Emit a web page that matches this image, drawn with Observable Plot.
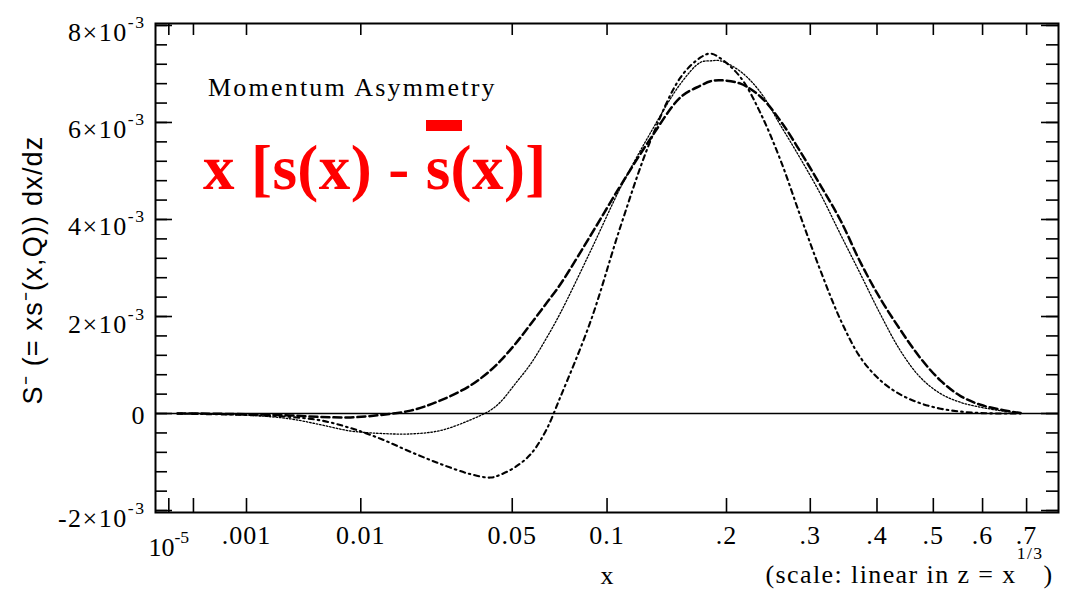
<!DOCTYPE html>
<html><head><meta charset="utf-8">
<script src="https://cdn.jsdelivr.net/npm/d3@7"></script>
<script src="https://cdn.jsdelivr.net/npm/@observablehq/plot@0.6"></script>
<style>
body{margin:0;background:#fff}
#wrap{position:relative;width:1070px;height:590px;overflow:hidden}
#title{position:absolute;left:208px;top:75px;font:26px "Liberation Serif",serif;line-height:1;letter-spacing:2.2px;color:#000;white-space:pre}
#formula{position:absolute;left:203px;top:137px;font:bold 63px "Liberation Serif",serif;line-height:1;letter-spacing:0.4px;color:#f00;white-space:pre}
.bar{position:relative}
.bar::before{content:"";position:absolute;left:0;width:36px;top:-13px;height:11px;background:#f00}
</style>
</head><body>
<div id="wrap">
<div id="title">Momentum Asymmetry</div>
<div id="formula">x [s(x) - <span class="bar">s</span>(x)]</div>
</div>
<script>
// x sample points (momentum fraction x)
const xs = [2.78e-5, 1.53e-4, 5.89e-4, 1.486e-3, 3.01e-3, 5.33e-3, 8.63e-3, 0.01304, 0.01876, 0.02593, 0.03475, 0.0416, 0.04535, 0.05135, 0.05792, 0.06496, 0.07262, 0.08962, 0.1091, 0.1312, 0.1561, 0.1743, 0.1839, 0.1939, 0.2149, 0.2374, 0.2614, 0.2870, 0.3142, 0.3430, 0.3736, 0.4059, 0.4400, 0.4760, 0.5139, 0.5538, 0.5957, 0.6396, 0.6857];
// values in units of 1e-3
const dashed = [0, 0, -0.01, -0.02, -0.04, -0.07, -0.08, -0.03, 0.06, 0.27, 0.58, 0.89, 1.09, 1.44, 1.84, 2.25, 2.67, 3.67, 4.70, 5.67, 6.52, 6.76, 6.85, 6.87, 6.80, 6.53, 6.03, 5.39, 4.70, 3.98, 3.11, 2.36, 1.72, 1.14, 0.68, 0.36, 0.18, 0.08, 0.01];
const thin = [0, 0, -0.02, -0.05, -0.11, -0.23, -0.36, -0.41, -0.42, -0.35, -0.13, 0.07, 0.24, 0.62, 1.02, 1.52, 2.08, 3.35, 4.66, 5.79, 6.80, 7.24, 7.27, 7.27, 7.05, 6.62, 5.94, 5.25, 4.52, 3.69, 2.87, 2.04, 1.29, 0.74, 0.41, 0.23, 0.13, 0.06, 0.01];
const dashdot = [0, -0.01, -0.02, -0.04, -0.07, -0.14, -0.30, -0.52, -0.79, -1.04, -1.25, -1.32, -1.26, -1.10, -0.84, -0.37, 0.35, 1.90, 3.86, 5.63, 6.93, 7.34, 7.42, 7.32, 6.93, 6.19, 5.22, 4.06, 2.94, 1.93, 1.15, 0.68, 0.39, 0.21, 0.10, 0.04, 0.01, 0, 0];

const xTicks = [1e-5, 1e-4, 0.001, 0.01, 0.05, 0.1, 0.2, 0.3, 0.4, 0.5, 0.6, 0.7];
const xTickLabels = ["10^{-5}", "", ".001", "0.01", "0.05", "0.1", ".2", ".3", ".4", ".5", ".6", ".7"];
const yTicks = [-2, 0, 2, 4, 6, 8];
const yTickLabels = ["-2×10^{-3}", "0", "2×10^{-3}", "4×10^{-3}", "6×10^{-3}", "8×10^{-3}"];
const yMinor = [-2, -1.6, -1.2, -0.8, -0.4, 0, 0.4, 0.8, 1.2, 1.6, 2, 2.4, 2.8, 3.2, 3.6, 4, 4.4, 4.8, 5.2, 5.6, 6, 6.4, 6.8, 7.2, 7.6, 8];
const xLabel = "x";
const scaleNote = "(scale: linear in z = x^^{1/3})";
const yLabel = "S⁻ (= xs⁻(x,Q)) dx/dz";

const W = 1070, H = 590, mL = 155, mR = 12, mT = 23, mB = 78;
const fW = W - mL - mR, fH = H - mT - mB;
const serif = "'Liberation Serif', 'Times New Roman', serif";
const sans = "'Liberation Sans', Arial, sans-serif";

const series = (ys) => xs.map((x, i) => ({x, y: ys[i]}));
const xLab = new Map(xTicks.map((d, i) => [d, xTickLabels[i]]));
const yLab = new Map(yTicks.map((d, i) => [d, yTickLabels[i]]));

const chart = Plot.plot({
  width: W, height: H,
  marginLeft: mL, marginRight: mR, marginTop: mT, marginBottom: mB,
  style: {fontFamily: serif, fontSize: "26px", background: "white", color: "black"},
  x: {type: "pow", exponent: 1/3, domain: [5.3e-7, 0.779], axis: null},
  y: {domain: [-2.04, 8.04], axis: null},
  marks: [
    Plot.ruleY([0], {stroke: "black", strokeWidth: 1.6}),
    Plot.line(series(thin), {x: "x", y: "y", curve: "catmull-rom", stroke: "black", strokeWidth: 1.3, strokeDasharray: "1.6,1.8"}),
    Plot.line(series(dashdot), {x: "x", y: "y", curve: "catmull-rom", stroke: "black", strokeWidth: 2.1, strokeDasharray: "5,4,1.6,4"}),
    Plot.line(series(dashed), {x: "x", y: "y", curve: "catmull-rom", stroke: "black", strokeWidth: 2.5, strokeDasharray: "8,4"}),
    Plot.frame({stroke: "black", strokeWidth: 2}),
    // inward ticks
    Plot.ruleY(yMinor, {insetRight: fW - 12, stroke: "black", strokeWidth: 1.6}),
    Plot.ruleY(yTicks, {insetRight: fW - 17, stroke: "black", strokeWidth: 1.6}),
    Plot.ruleY(yMinor, {insetLeft: fW - 12, stroke: "black", strokeWidth: 1.6}),
    Plot.ruleY(yTicks, {insetLeft: fW - 17, stroke: "black", strokeWidth: 1.6}),
    Plot.ruleX(xTicks, {insetTop: fH - 14, stroke: "black", strokeWidth: 1.6}),
    Plot.ruleX(xTicks, {insetBottom: fH - 12, stroke: "black", strokeWidth: 1.6}),
    // tick labels
    Plot.text(yTicks.filter(d => d !== 0), {y: d => d, text: d => yLab.get(d), frameAnchor: "left", textAnchor: "end", lineAnchor: "bottom", dx: -10, dy: 16, fontSize: 26}),
    Plot.text(yTicks.filter(d => d === 0), {y: d => d, text: d => yLab.get(d), frameAnchor: "left", textAnchor: "end", lineAnchor: "bottom", dx: -10, dy: 10, fontSize: 26}),
    Plot.text(xTicks.filter(d => d >= 1e-3), {x: d => d, text: d => xLab.get(d), frameAnchor: "bottom", lineAnchor: "bottom", dy: 31, fontSize: 26}),
    Plot.text(xTicks.filter(d => d === 1e-5), {x: d => d, text: d => xLab.get(d), frameAnchor: "bottom", lineAnchor: "bottom", dy: 43, fontSize: 26}),
    // axis labels
    Plot.text([xLabel], {frameAnchor: "bottom", lineAnchor: "bottom", dy: 71, fontSize: 26}),
    Plot.text([scaleNote], {frameAnchor: "bottom-right", textAnchor: "end", lineAnchor: "bottom", dx: -5, dy: 70, fontSize: 26}),
    Plot.text([yLabel], {frameAnchor: "left", textAnchor: "middle", lineAnchor: "bottom", rotate: -90, dx: -114, dy: 2, fontSize: 27, fontFamily: sans})
  ]
});

const wrap = document.getElementById("wrap");
wrap.insertBefore(chart, wrap.firstChild);

// letter spacing to match the wide type of the original
chart.querySelectorAll("text").forEach(t => {
  const s = t.textContent;
  if (s === yLabel) t.style.letterSpacing = "1.2px";
  else if (s.startsWith("(scale")) t.style.letterSpacing = "1.4px";
  else if (s.includes("×10")) t.style.letterSpacing = "1.5px";
  else if (/^[.0-9]+$/.test(s)) t.style.letterSpacing = "1px";
});

// turn ^{..} (and ^^{..} for a high exponent) into superscript tspans
const NS = "http://www.w3.org/2000/svg";
chart.querySelectorAll("text").forEach(t => {
  const targets = t.querySelectorAll("tspan").length ? [...t.querySelectorAll("tspan")] : [t];
  targets.forEach(el => {
    const s = el.textContent;
    if (!s.includes("^")) return;
    const F = parseFloat(getComputedStyle(el).fontSize) || 26;
    el.textContent = "";
    const re = /\^(\^?)\{([^}]*)\}/g;
    let last = 0, m, pending = 0;
    const add = (txt, dy, size) => {
      const sp = document.createElementNS(NS, "tspan");
      sp.textContent = txt;
      if (dy) sp.setAttribute("dy", dy);
      if (size) sp.setAttribute("font-size", size);
      el.appendChild(sp);
    };
    while ((m = re.exec(s))) {
      if (m.index > last) { add(s.slice(last, m.index), pending, null); pending = 0; }
      const shift = m[1] ? 0.9 * F : 0.5 * F;
      add(m[2], pending - shift, 0.68 * F);
      pending = shift;
      last = re.lastIndex;
    }
    if (last < s.length) add(s.slice(last), pending, null);
  });
});
</script>
</body></html>
